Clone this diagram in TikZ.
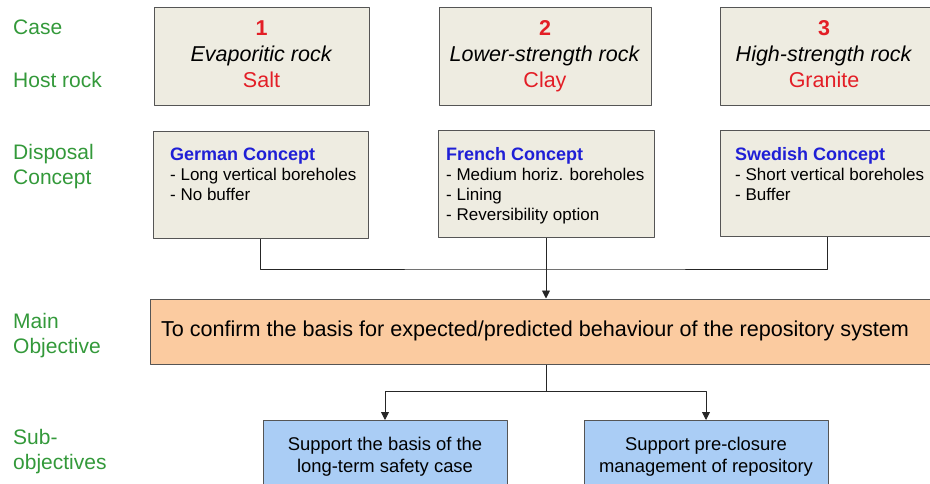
\documentclass[tikz,border=0pt]{standalone}
\usepackage{fontspec}
\setmainfont{Liberation Sans}
\usetikzlibrary{arrows.meta}
\definecolor{boxgray}{HTML}{EEECE1}
\definecolor{edgegray}{HTML}{555555}
\definecolor{mainorange}{HTML}{FBCBA0}
\definecolor{subblue}{HTML}{AACDF5}
\definecolor{labgreen}{HTML}{33993A}
\definecolor{rockred}{HTML}{E31E26}
\definecolor{ideablue}{HTML}{1F1FD6}
\begin{document}
\begin{tikzpicture}[x=1pt,y=-1pt,>={Triangle[length=8pt,width=8pt]},line join=round,
	lbl/.style={anchor=west,text=labgreen,align=left,inner sep=0,font=\fontsize{21}{25}\selectfont},
	casebox/.style={draw=edgegray,line width=1pt,fill=boxgray,inner sep=0},
	casetxt/.style={anchor=north,align=center,inner sep=0,font=\fontsize{21.5}{26}\selectfont},
	contxt/.style={anchor=north west,align=left,inner sep=0,font=\fontsize{17}{20}\selectfont},
	mainbox/.style={draw=edgegray,line width=1pt,fill=mainorange,inner sep=0,minimum width=785pt,minimum height=65pt},
	subbox/.style={draw=edgegray,line width=1pt,fill=subblue,align=center,inner sep=0,minimum width=244pt,minimum height=72pt,font=\fontsize{18.4}{22}\selectfont},
	link/.style={draw=black!85,line width=0.9pt}]
	\useasboundingbox (0,0) rectangle (930,484);
	% row labels
	\node[lbl] (lcase) at (13,27) {Case};
	\node[lbl] (lhost) at (13,80) {Host rock};
	\node[lbl] (ldisp) at (13,167) {Disposal\\Concept};
	\node[lbl] (lmain) at (13,336) {Main\\Objective};
	\node[lbl] (lsub) at (13,452) {Sub-\\objectives};
	% cases
	\node[casebox,minimum width=215pt,minimum height=98pt] (k1) at (261.5,57) {};
	\node[casetxt] (k1t) at (261.5,20.5) {\textcolor{rockred}{\bfseries 1}\\\textit{Evaporitic rock}\\\textcolor{rockred}{Salt}};
	\node[casebox,minimum width=212pt,minimum height=98pt] (k2) at (545,57) {};
	\node[casetxt] (k2t) at (545,20.5) {\textcolor{rockred}{\bfseries 2}\\\textit{Lower-strength rock}\\\textcolor{rockred}{Clay}};
	\node[casebox,minimum width=215pt,minimum height=98pt] (k3) at (827.5,57) {};
	\node[casetxt] (k3t) at (824,20.5) {\textcolor{rockred}{\bfseries 3}\\\textit{High-strength rock}\\\textcolor{rockred}{Granite}};
	% concepts
	\node[casebox,minimum width=215pt,minimum height=107pt] (c1) at (260.5,185.5) {};
	\node[contxt] (c1t) at (170,147.5) {{\fontsize{18}{22}\selectfont\bfseries\color{ideablue}German Concept}\\- Long vertical boreholes\\- No buffer};
	\node[casebox,minimum width=216pt,minimum height=107pt] (c2) at (546,184.5) {};
	\node[contxt] (c2t) at (446,147.5) {{\fontsize{18}{22}\selectfont\bfseries\color{ideablue}French Concept}\\- Medium horiz. boreholes\\- Lining\\- Reversibility option};
	\node[casebox,minimum width=215pt,minimum height=106pt] (c3) at (827.5,184) {};
	\node[contxt] (c3t) at (735,147.5) {{\fontsize{18}{22}\selectfont\bfseries\color{ideablue}Swedish Concept}\\- Short vertical boreholes\\- Buffer};
	% objectives
	\node[mainbox] (main) at (542.5,331.5) {};
	\node[inner sep=0,font=\fontsize{21.6}{26}\selectfont] (maint) at (535,331) {To confirm the basis for expected/predicted behaviour of the repository system};
	\node[subbox] (s1) at (385,456.5) {Support the basis of the\\long-term safety case};
	\node[subbox] (s2) at (706,456.5) {Support pre-closure\\management of repository};
	% connectors
	\coordinate (jtop) at (546,269);
	\coordinate (jbot) at (546,391);
	\draw[link] (c1.south) |- (jtop) -| (c3.south);
	\draw[link,->] (c2.south) -- (c2.south |- main.north);
	\draw[link] (main.south -| jbot) -- (jbot);
	\draw[link,->] (jbot) -| (s1.north);
	\draw[link,->] (jbot) -| (s2.north);
\end{tikzpicture}
\end{document}
